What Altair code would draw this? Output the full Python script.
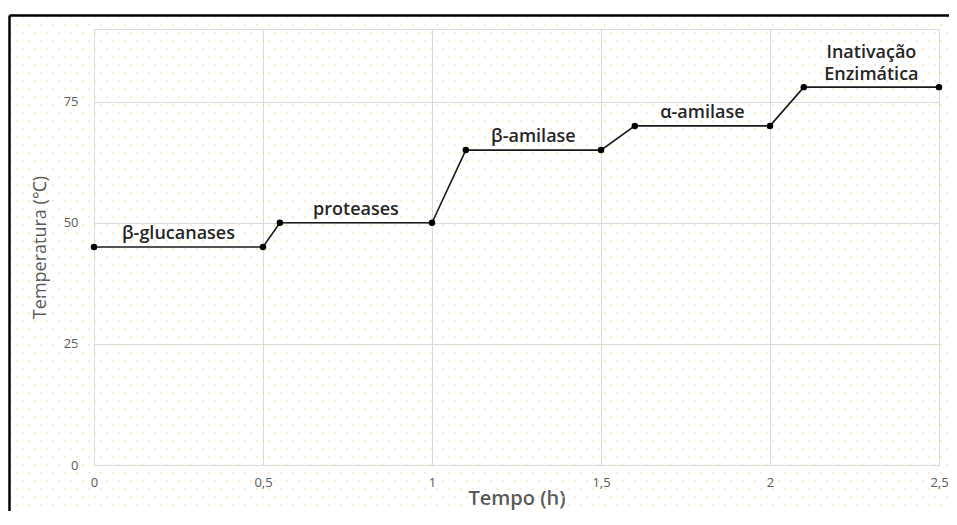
import altair as alt
import pandas as pd

# Dados do perfil de temperatura
tempo = [0, 0.5, 0.55, 1.0, 1.1, 1.5, 1.6, 2.0, 2.1, 2.5]
temperatura = [45, 45, 50, 50, 65, 65, 70, 70, 78, 78]

# Rótulos das etapas (uma linha)
rotulos = ["β-glucanases", "proteases", "β-amilase", "α-amilase"]
rotulo_tempo = [0.25, 0.775, 1.3, 1.8]
rotulo_temp = [45, 50, 65, 70]

# Rótulo de duas linhas
rotulo2 = ["Inativação\nEnzimática"]
rotulo2_tempo = [2.3]
rotulo2_temp = [78]

x_ticks = [0, 0.5, 1, 1.5, 2, 2.5]
y_ticks = [0, 25, 50, 75]

df = pd.DataFrame({"tempo": tempo, "temperatura": temperatura})
df_lab = pd.DataFrame({"rotulo": rotulos, "tempo": rotulo_tempo, "temperatura": rotulo_temp})
df_lab2 = pd.DataFrame({"rotulo": rotulo2, "tempo": rotulo2_tempo, "temperatura": rotulo2_temp})

FONT = "Open Sans"
GRAY = "#595959"

x_enc = alt.X(
    "tempo:Q",
    scale=alt.Scale(domain=[0, 2.5], nice=False, zero=False),
    axis=alt.Axis(
        values=x_ticks,
        title="Tempo (h)",
        labelExpr="replace(toString(datum.value), '.', ',')",
        grid=True,
        gridColor="#d9d9d9",
        gridWidth=1,
        domain=False,
        ticks=False,
        labelPadding=11,
        labelFont=FONT,
        labelFontSize=13,
        labelColor=GRAY,
        labelFlush=False,
        titleFont=FONT,
        titleFontSize=20,
        titleFontWeight=600,
        titleColor=GRAY,
        titleY=33,
        titleBaseline="middle",
    ),
)
y_enc = alt.Y(
    "temperatura:Q",
    scale=alt.Scale(domain=[0, 90], nice=False),
    axis=alt.Axis(
        values=y_ticks,
        title="Temperatura (℃)",
        grid=True,
        gridColor="#d9d9d9",
        gridWidth=1,
        domain=False,
        ticks=False,
        labelPadding=16,
        labelFont=FONT,
        labelFontSize=13,
        labelColor=GRAY,
        titleFont=FONT,
        titleFontSize=18,
        titleFontWeight="normal",
        titleColor=GRAY,
        titleX=-54,
        titleY=218,
        titleAngle=-90,
        titleBaseline="middle",
        titleAlign="center",
    ),
)

# Fundo pontilhado (decorativo)
dot_rows = alt.Chart(alt.sequence(0, 66, as_="r")).transform_calculate(
    py="datum.r * 8 - 12", par="datum.r % 2"
)
dots_even = dot_rows.transform_filter("datum.par == 0").mark_rule(
    color="#f8dcae", strokeWidth=2, strokeDash=[2, 10], strokeDashOffset=0, opacity=0.6
).encode(x=alt.value(-84), x2=alt.value(1000), y=alt.Y("py:Q", scale=None))
dots_odd = dot_rows.transform_filter("datum.par == 1").mark_rule(
    color="#f8dcae", strokeWidth=2, strokeDash=[2, 10], strokeDashOffset=6, opacity=0.6
).encode(x=alt.value(-84), x2=alt.value(1000), y=alt.Y("py:Q", scale=None))

base = alt.Chart(df)
line = base.mark_line(color="#1a1a1a", strokeWidth=1.6).encode(x=x_enc, y=y_enc)
pts = base.mark_circle(color="#000000", size=42, opacity=1).encode(x="tempo:Q", y="temperatura:Q")

text_style = dict(font=FONT, fontSize=18, fontWeight=600, color="#262626", align="center", baseline="bottom")
labels = alt.Chart(df_lab).mark_text(dy=-4, **text_style).encode(
    x="tempo:Q", y="temperatura:Q", text="rotulo:N"
)
labels2 = alt.Chart(df_lab2).mark_text(dy=-25, lineBreak="\n", lineHeight=22, **text_style).encode(
    x="tempo:Q", y="temperatura:Q", text="rotulo:N"
)

frame_data = alt.Data(values=[{"k": 1}])
frame_left = alt.Chart(frame_data).mark_rule(color="black", strokeWidth=2.5).encode(
    x=alt.value(-84.5), y=alt.value(-13.5), y2=alt.value(700)
)
frame_top = alt.Chart(frame_data).mark_rule(color="black", strokeWidth=2.5).encode(
    x=alt.value(-84.5), x2=alt.value(1000), y=alt.value(-13.5)
)

chart = alt.layer(dots_even, dots_odd, line, pts, labels, labels2, frame_left, frame_top).properties(
    width=845,
    height=436,
    autosize=alt.AutoSizeParams(type="none"),
    padding={"left": 86, "top": 21, "right": 10, "bottom": 46},
    background="white",
).configure_view(stroke="#d9d9d9", strokeWidth=1)

chart.save("out.html", embed_options={"renderer": "svg", "actions": False})
